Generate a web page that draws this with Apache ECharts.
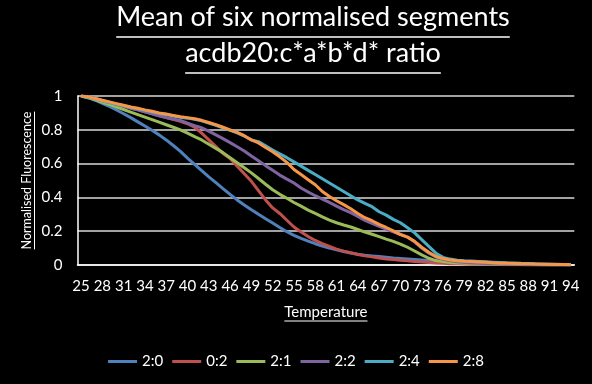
<!DOCTYPE html>
<html>
<head>
<meta charset="utf-8">
<script src="https://cdn.jsdelivr.net/npm/echarts@6/dist/echarts.min.js"></script>
<style>html,body{margin:0;padding:0;background:#000;}#c{width:592px;height:384px;}</style>
</head>
<body>
<div id="c"></div>
<script>
// ---- data ----
const titleLines = ['Mean of six normalised segments', 'acdb20:c*a*b*d* ratio'];
const xName = 'Temperature';
const yName = 'Normalised Fluorescence';
const temps = [25,26,27,28,29,30,31,32,33,34,35,36,37,38,39,40,41,42,43,44,45,46,47,48,49,50,51,52,53,54,55,56,57,58,59,60,
  61,62,63,64,65,66,67,68,69,70,71,72,73,74,75,76,77,78,79,80,81,82,83,84,85,86,87,88,89,90,91,92,93,94];
const seriesNames = ['2:0', '0:2', '2:1', '2:2', '2:4', '2:8'];
const s20 = [1.0,0.99,0.975,0.957,0.938,0.917,0.895,0.872,0.847,0.822,0.797,0.77,0.74,0.707,0.672,0.632,0.595,0.558,0.522,0.487,
  0.452,0.418,0.385,0.355,0.327,0.3,0.274,0.248,0.222,0.197,0.175,0.157,0.141,0.126,0.112,0.1,0.09,0.08,0.071,0.064,
  0.058,0.054,0.05,0.046,0.042,0.039,0.036,0.033,0.03,0.027,0.024,0.021,0.019,0.017,0.015,0.013,0.011,0.009,0.008,0.007,
  0.006,0.005,0.004,0.004,0.003,0.003,0.002,0.002,0.001,0.001];
const s02 = [1.0,0.995,0.985,0.972,0.962,0.95,0.94,0.928,0.918,0.906,0.895,0.883,0.872,0.862,0.85,0.836,0.815,0.78,0.74,0.70,
  0.66,0.63,0.585,0.54,0.495,0.44,0.385,0.338,0.305,0.265,0.225,0.195,0.168,0.145,0.127,0.11,0.094,0.082,0.072,0.062,
  0.054,0.048,0.041,0.036,0.032,0.028,0.025,0.021,0.018,0.015,0.012,0.01,0.008,0.007,0.006,0.005,0.004,0.004,0.003,0.003,
  0.002,0.002,0.002,0.002,0.001,0.001,0.001,0.001,0.001,0.001];
const s21 = [1.0,0.99,0.977,0.962,0.95,0.935,0.92,0.905,0.89,0.875,0.86,0.845,0.83,0.815,0.8,0.78,0.76,0.74,0.715,0.69,
  0.665,0.635,0.605,0.575,0.545,0.512,0.478,0.445,0.418,0.395,0.37,0.348,0.325,0.305,0.285,0.266,0.25,0.237,0.225,0.21,
  0.195,0.182,0.168,0.153,0.14,0.124,0.105,0.083,0.06,0.04,0.026,0.02,0.015,0.012,0.01,0.008,0.007,0.006,0.005,0.004,
  0.004,0.003,0.003,0.002,0.002,0.002,0.001,0.001,0.001,0.001];
const s22 = [1.0,0.995,0.985,0.972,0.962,0.95,0.94,0.928,0.918,0.906,0.895,0.883,0.872,0.862,0.855,0.84,0.825,0.812,0.792,0.77,
  0.748,0.724,0.70,0.675,0.645,0.617,0.588,0.56,0.532,0.508,0.485,0.456,0.432,0.41,0.39,0.37,0.348,0.328,0.31,0.287,
  0.264,0.246,0.228,0.212,0.196,0.182,0.165,0.137,0.1,0.07,0.047,0.034,0.025,0.019,0.015,0.012,0.01,0.008,0.007,0.006,
  0.005,0.004,0.004,0.003,0.003,0.002,0.002,0.001,0.001,0.001];
const s24 = [1.0,0.993,0.982,0.972,0.962,0.952,0.942,0.932,0.924,0.915,0.907,0.897,0.89,0.882,0.874,0.869,0.862,0.853,0.84,0.827,
  0.812,0.797,0.782,0.763,0.74,0.73,0.705,0.68,0.658,0.635,0.61,0.585,0.56,0.535,0.51,0.485,0.46,0.435,0.41,0.385,
  0.365,0.345,0.315,0.295,0.27,0.25,0.22,0.19,0.15,0.11,0.07,0.045,0.035,0.028,0.025,0.023,0.021,0.019,0.017,0.015,
  0.013,0.012,0.01,0.009,0.007,0.006,0.005,0.004,0.003,0.002];
const s28 = [1.0,0.995,0.985,0.975,0.965,0.955,0.945,0.935,0.927,0.918,0.91,0.9,0.893,0.885,0.877,0.872,0.865,0.856,0.843,0.83,
  0.815,0.8,0.785,0.765,0.74,0.722,0.695,0.67,0.64,0.607,0.565,0.535,0.505,0.475,0.435,0.405,0.38,0.357,0.333,0.305,
  0.28,0.262,0.24,0.222,0.202,0.18,0.165,0.14,0.105,0.075,0.05,0.038,0.03,0.025,0.022,0.02,0.018,0.016,0.013,0.011,
  0.01,0.009,0.008,0.007,0.006,0.005,0.004,0.003,0.003,0.002];
const seriesData = [s20, s02, s21, s22, s24, s28];
const colors = ['#4F81BD', '#C0504D', '#9BBB59', '#8064A2', '#4BACC6', '#F79646'];
const yMin = 0, yMax = 1, yStep = 0.2;

// ---- chart ----
const FONT = 'Lato';
const chart = echarts.init(document.getElementById('c'), null, {renderer: 'canvas'});
const ctx = document.createElement('canvas').getContext('2d');
function tw(text, size) { ctx.font = size + 'px ' + FONT; return ctx.measureText(text).width; }

const titleSize = 27, titleCX = 313, titleY1 = 31, titleY2 = 67;
const axisNameSize = 15, yNameSize = 12.5;
const gridL = 77.5, gridR = 574.3, gridT = 96, gridB = 265;
const xNameY = 312, yNameX = 27;

const graphics = [];
titleLines.forEach((t, i) => {
  const y = i === 0 ? titleY1 : titleY2;
  const w = tw(t, titleSize);
  graphics.push({type: 'text', x: titleCX, y: y, style: {text: t, fill: '#fff', font: titleSize + 'px ' + FONT, textAlign: 'center', textVerticalAlign: 'bottom'}});
  graphics.push({type: 'line', shape: {x1: titleCX - w / 2, y1: y + 6, x2: titleCX + w / 2, y2: y + 6}, style: {stroke: '#fff', lineWidth: 1.5}});
});
const xCX = (gridL + gridR) / 2;
const wx = tw(xName, axisNameSize);
graphics.push({type: 'text', x: xCX, y: xNameY, style: {text: xName, fill: '#fff', font: axisNameSize + 'px ' + FONT, textAlign: 'center', textVerticalAlign: 'middle'}});
graphics.push({type: 'line', shape: {x1: xCX - wx / 2, y1: xNameY + 9, x2: xCX + wx / 2, y2: xNameY + 9}, style: {stroke: '#fff', lineWidth: 1}});
const yCY = (gridT + gridB) / 2;
const wy = tw(yName, yNameSize);
graphics.push({type: 'text', x: yNameX, y: yCY, rotation: Math.PI / 2, style: {text: yName, fill: '#fff', font: yNameSize + 'px ' + FONT, textAlign: 'center', textVerticalAlign: 'middle'}});
graphics.push({type: 'line', shape: {x1: yNameX + 7.5, y1: yCY - wy / 2, x2: yNameX + 7.5, y2: yCY + wy / 2}, style: {stroke: '#fff', lineWidth: 1}});

chart.setOption({
  backgroundColor: '#000',
  animation: false,
  color: colors,
  textStyle: {fontFamily: FONT},
  grid: {left: gridL, right: 592 - gridR, top: gridT, bottom: 384 - gridB, containLabel: false},
  legend: {
    data: seriesNames, left: 'center', top: 349, icon: 'rect', itemWidth: 29, itemHeight: 3, itemGap: 9,
    textStyle: {color: '#fff', fontSize: 15, fontFamily: FONT}
  },
  xAxis: {
    type: 'category', data: temps, boundaryGap: true,
    axisLine: {show: true, lineStyle: {color: '#fff', width: 1.5}},
    axisTick: {show: false},
    axisLabel: {interval: 2, color: '#fff', fontSize: 15, margin: 14, fontFamily: FONT},
    splitLine: {show: false}
  },
  yAxis: {
    type: 'value', min: yMin, max: yMax, interval: yStep,
    axisLine: {show: true, lineStyle: {color: '#fff', width: 1.5}},
    axisTick: {show: false},
    axisLabel: {color: '#fff', fontSize: 15, margin: 15, fontFamily: FONT, formatter: v => String(+v.toFixed(1))},
    splitLine: {show: true, lineStyle: {color: '#d9d9d9', width: 1.5}}
  },
  graphic: graphics,
  series: seriesNames.map((n, i) => ({
    name: n, type: 'line', data: seriesData[i], showSymbol: false, symbol: 'none',
    lineStyle: {width: 3, color: colors[i]}, itemStyle: {color: colors[i]}
  }))
});
</script>
</body>
</html>
